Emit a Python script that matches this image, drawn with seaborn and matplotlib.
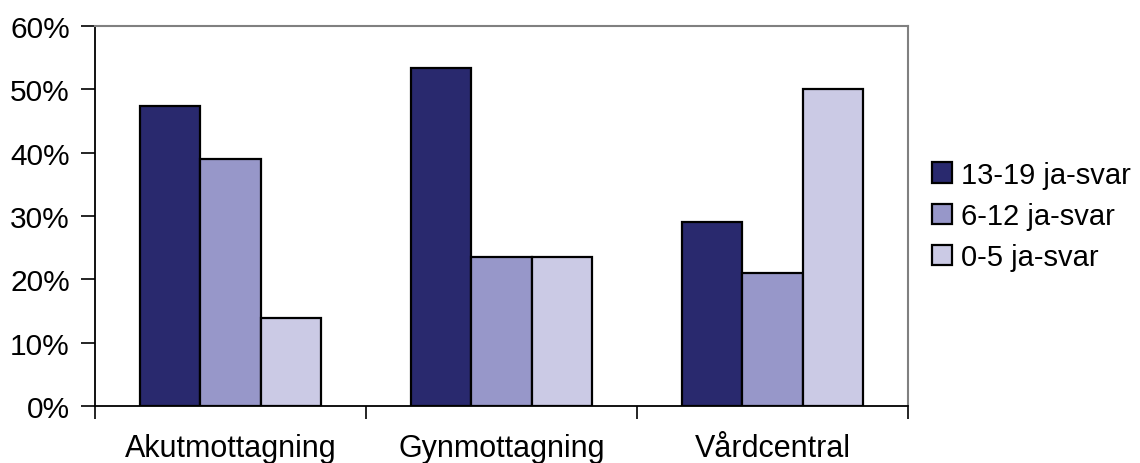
import matplotlib
matplotlib.use("Agg")
import matplotlib.pyplot as plt
import seaborn as sns
import pandas as pd
from matplotlib.patches import Patch
from matplotlib.ticker import FixedLocator, PercentFormatter

categories = ["Akutmottagning", "Gynmottagning", "Vårdcentral"]
groups = ["13-19 ja-svar", "6-12 ja-svar", "0-5 ja-svar"]
v_13_19 = [47.4, 53.3, 29.1]
v_6_12 = [39.0, 23.5, 21.0]
v_0_5 = [13.9, 23.5, 50.0]
colors = ["#29296E", "#9797C9", "#CBCAE5"]
yticks = [0, 10, 20, 30, 40, 50, 60]

rows = []
for g, vals in zip(groups, [v_13_19, v_6_12, v_0_5]):
    for c, v in zip(categories, vals):
        rows.append({"Kategori": c, "Grupp": g, "Andel": v})
df = pd.DataFrame(rows)

sns.set_theme(style="white")
plt.rcParams["font.family"] = ["Liberation Sans", "DejaVu Sans"]
plt.rcParams["text.color"] = "black"

fig = plt.figure(figsize=(11.4, 4.64), dpi=100)
ax = fig.add_axes([95 / 1140, 1 - 407 / 464, 813 / 1140, 380 / 464])

sns.barplot(data=df, x="Kategori", y="Andel", hue="Grupp", order=categories,
            hue_order=groups, palette=colors, width=2 / 3, edgecolor="black",
            linewidth=1.6, saturation=1, legend=False, ax=ax)

ax.set_xlim(-0.5, 2.5)
ax.set_ylim(0, 60)
ax.set_yticks(yticks)
ax.yaxis.set_major_formatter(PercentFormatter(decimals=0))
ax.set_xlabel("")
ax.set_ylabel("")

ax.xaxis.set_minor_locator(FixedLocator([-0.5, 0.5, 1.5, 2.5]))
ax.tick_params(axis="x", which="major", length=0, pad=19.5, labelsize=22, colors="black")
ax.tick_params(axis="x", which="minor", length=9, width=1.2, color="black", direction="out", bottom=True)
ax.tick_params(axis="y", which="major", length=10, width=1.2, color="black", direction="out",
               left=True, pad=8, labelsize=21.5, labelcolor="black")

for s in ["left", "bottom"]:
    ax.spines[s].set_color("black")
    ax.spines[s].set_linewidth(1.3)
for s in ["top", "right"]:
    ax.spines[s].set_color("#808080")
    ax.spines[s].set_linewidth(1.5)
    ax.spines[s].set_visible(True)

handles = [Patch(facecolor=c, edgecolor="black", linewidth=1.6) for c in colors]
leg = fig.legend(handles, groups, loc="center left", bbox_to_anchor=(932 / 1140, 1 - 217 / 464),
                 frameon=False, fontsize=21, handlelength=0.7, handleheight=0.7,
                 handletextpad=0.3, labelspacing=0.45, borderaxespad=0, borderpad=0)
for t in leg.get_texts():
    t.set_color("black")

fig.savefig("out.png", dpi=100, facecolor="white")
